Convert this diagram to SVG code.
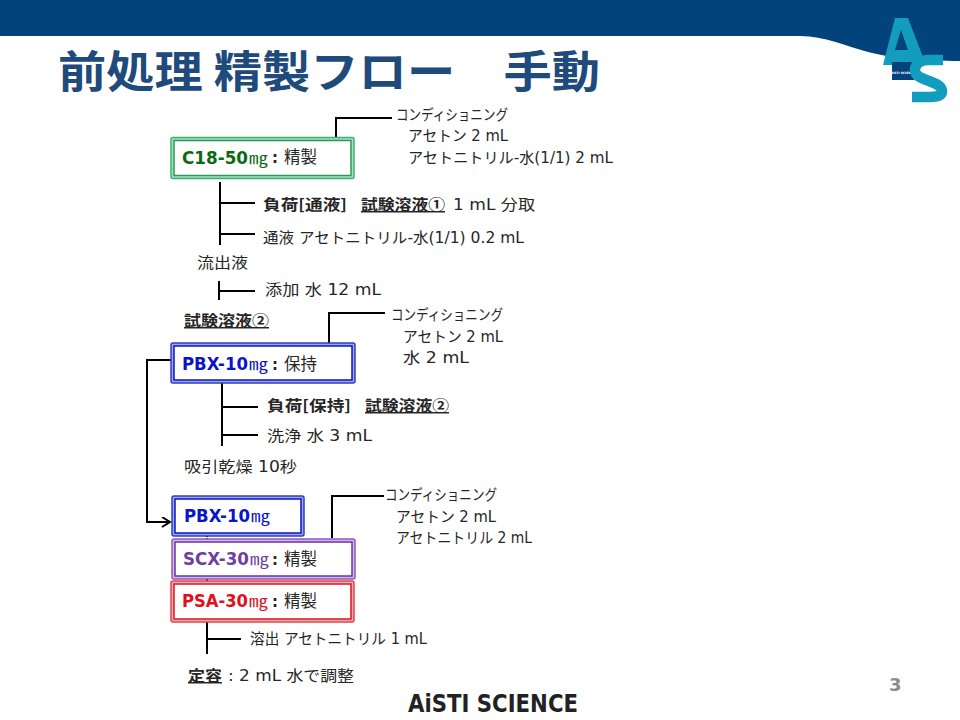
<svg xmlns="http://www.w3.org/2000/svg" width="960" height="720" viewBox="0 0 960 720">
<style>
text{font-family:"DejaVu Sans","Noto Sans CJK JP",sans-serif;font-size:15px;fill:#262626}
.b{font-weight:700}
.u{text-decoration:underline}
.j{font-family:"Noto Sans CJK JP",sans-serif}
.n{font-size:17px;font-weight:700}
.m{font-size:16px;font-family:"Noto Sans CJK JP",sans-serif}
.in{fill:#fff;stroke-width:1.500}
.o{stroke-width:1.500}
.c path{stroke:#000;stroke-width:2;fill:none}
</style>
<defs><marker id="arr" markerWidth="12" markerHeight="12" refX="9" refY="5" orient="auto" markerUnits="userSpaceOnUse"><path d="M1 0L9 5L1 10" fill="none" stroke="#000" stroke-width="2"/></marker></defs>
<g id="header">
<path d="M0 0H960V61C925 61 890 58 868 52C845 46 825 36 800 36H0Z" fill="#03437c"/>
<path fill-rule="evenodd" d="M883 65L895 18H908L926 65H890ZM901 30L895 50H908Z" fill="#129cbd"/>
<rect x="892" y="62" width="22" height="18" fill="#03437c"/>
<text x="903" y="74" text-anchor="middle" style="font-size:3px;fill:#fff;font-weight:700">AiSTI SCIENCE</text>
<path d="M943 60H929C920 60 915 64 915 70C915 76 921 78 929 81C937 84 942 86 942 91C942 95 938 97 930 97H912" fill="none" stroke="#129cbd" stroke-width="10.500"/>
<text x="58" y="88" class="b j" style="font-size:44px;fill:#1f4a7c" textLength="542" lengthAdjust="spacingAndGlyphs">前処理 精製フロー　手動</text>
</g>
<g class="c" id="connectors">
<path d="M336 137V118H392"/>
<path d="M220 182V245M220 203H255M220 234H255"/>
<path d="M219 281V300M219 291H255"/>
<path d="M329 343V313H385"/>
<path d="M222 383V446M222 407H258M222 435H258"/>
<path d="M171 360H147V522H170" marker-end="url(#arr)"/>
<path d="M332 538V496H384"/>
<path d="M207 622V654M207 639H241"/>
<path d="M207 536V539" stroke-dasharray="1 1"/>
<path d="M207 578V582"/>
</g>
<g id="c18">
<rect class="o" x="171" y="137.500" width="183" height="41" rx="2" fill="#a8e0c0" stroke="#3fb070"/>
<rect class="in" x="174" y="140.500" width="177" height="35" stroke="#2a9a5a"/>
<text x="182" y="164" class="n" style="fill:#0b6b12" textLength="66" lengthAdjust="spacingAndGlyphs">C18-50</text>
<text x="249" y="164" class="m" style="fill:#0b6b12" textLength="19" lengthAdjust="spacingAndGlyphs">㎎</text>
<text x="272" y="163" class="b">:</text><text x="284" y="163" class="j" style="font-size:16.500px">精製</text>
</g>
<g id="pbx1">
<rect class="o" x="171" y="343" width="184" height="40" rx="2" fill="#a0a8e8" stroke="#2f3fc0"/>
<rect class="in" x="174" y="346" width="178" height="34" stroke="#0a14c8"/>
<text x="182" y="370" class="n" style="fill:#0a14c8" textLength="66" lengthAdjust="spacingAndGlyphs">PBX-10</text>
<text x="249" y="370" class="m" style="fill:#0a14c8" textLength="19" lengthAdjust="spacingAndGlyphs">㎎</text>
<text x="272" y="370" class="b">:</text><text x="284" y="370" class="j" style="font-size:16.500px">保持</text>
</g>
<g id="pbx2">
<rect class="o" x="172" y="496" width="132" height="40" rx="2" fill="#a0a8e8" stroke="#2f3fc0"/>
<rect class="in" x="175" y="499" width="126" height="34" stroke="#0a14c8"/>
<text x="184" y="522" class="n" style="fill:#0a14c8" textLength="66" lengthAdjust="spacingAndGlyphs">PBX-10</text>
<text x="251" y="522" class="m" style="fill:#0a14c8" textLength="19" lengthAdjust="spacingAndGlyphs">㎎</text>
</g>
<g id="scx">
<rect class="o" x="172" y="539" width="183" height="40" rx="2" fill="#d0b8e8" stroke="#8a5cc0"/>
<rect class="in" x="175" y="542" width="177" height="34" stroke="#7030a0"/>
<text x="183" y="565" class="n" style="fill:#6f3fa0" textLength="66" lengthAdjust="spacingAndGlyphs">SCX-30</text>
<text x="250" y="565" class="m" style="fill:#6f3fa0" textLength="19" lengthAdjust="spacingAndGlyphs">㎎</text>
<text x="272" y="565" class="b">:</text><text x="284" y="565" class="j" style="font-size:16.500px">精製</text>
</g>
<g id="psa">
<rect class="o" x="171" y="581" width="183" height="41" rx="2" fill="#f4b0b4" stroke="#e8404a"/>
<rect class="in" x="174" y="584" width="177" height="35" stroke="#e01020"/>
<text x="182" y="607" class="n" style="fill:#e01020" textLength="66" lengthAdjust="spacingAndGlyphs">PSA-30</text>
<text x="249" y="607" class="m" style="fill:#e01020" textLength="19" lengthAdjust="spacingAndGlyphs">㎎</text>
<text x="272" y="607" class="b">:</text><text x="284" y="607" class="j" style="font-size:16.500px">精製</text>
</g>
<g id="labels">
<text x="396" y="120" textLength="112" lengthAdjust="spacingAndGlyphs">コンディショニング</text>
<text x="408" y="141" textLength="100" lengthAdjust="spacingAndGlyphs">アセトン 2 mL</text>
<text x="408" y="163" textLength="205" lengthAdjust="spacingAndGlyphs">アセトニトリル-水(1/1) 2 mL</text>
<text x="263" y="210" class="b j" textLength="84" lengthAdjust="spacingAndGlyphs">負荷[通液]</text>
<text x="361" y="210" class="b u j" textLength="84" lengthAdjust="spacingAndGlyphs">試験溶液①</text>
<text x="453" y="210" textLength="82" lengthAdjust="spacingAndGlyphs">1 mL 分取</text>
<text x="263" y="243" textLength="261" lengthAdjust="spacingAndGlyphs">通液 アセトニトリル-水(1/1) 0.2 mL</text>
<text x="197" y="268" textLength="51" lengthAdjust="spacingAndGlyphs">流出液</text>
<text x="265" y="295" textLength="116" lengthAdjust="spacingAndGlyphs">添加 水 12 mL</text>
<text x="184" y="326" class="b u j" textLength="85" lengthAdjust="spacingAndGlyphs">試験溶液②</text>
<text x="391" y="320" textLength="112" lengthAdjust="spacingAndGlyphs">コンディショニング</text>
<text x="403" y="342" textLength="100" lengthAdjust="spacingAndGlyphs">アセトン 2 mL</text>
<text x="403" y="363" textLength="66" lengthAdjust="spacingAndGlyphs">水 2 mL</text>
<text x="267" y="411" class="b j" textLength="84" lengthAdjust="spacingAndGlyphs">負荷[保持]</text>
<text x="365" y="411" class="b u j" textLength="84" lengthAdjust="spacingAndGlyphs">試験溶液②</text>
<text x="267" y="441" textLength="105" lengthAdjust="spacingAndGlyphs">洗浄 水 3 mL</text>
<text x="184" y="472" textLength="113" lengthAdjust="spacingAndGlyphs">吸引乾燥 10秒</text>
<text x="385" y="500" textLength="112" lengthAdjust="spacingAndGlyphs">コンディショニング</text>
<text x="396" y="522" textLength="100" lengthAdjust="spacingAndGlyphs">アセトン 2 mL</text>
<text x="396" y="543" textLength="136" lengthAdjust="spacingAndGlyphs">アセトニトリル 2 mL</text>
<text x="250" y="644" textLength="177" lengthAdjust="spacingAndGlyphs">溶出 アセトニトリル 1 mL</text>
<text x="188" y="681" class="b u j" textLength="34" lengthAdjust="spacingAndGlyphs">定容</text>
<text x="228" y="681" textLength="126" lengthAdjust="spacingAndGlyphs">: 2 mL 水で調整</text>
</g>
<g id="footer">
<text x="408" y="712" class="b" style="font-size:24px;fill:#222" textLength="170" lengthAdjust="spacingAndGlyphs">AiSTI SCIENCE</text>
<text x="889" y="691" class="b" style="font-size:18px;fill:#8c8c8c">3</text>
</g>
</svg>
